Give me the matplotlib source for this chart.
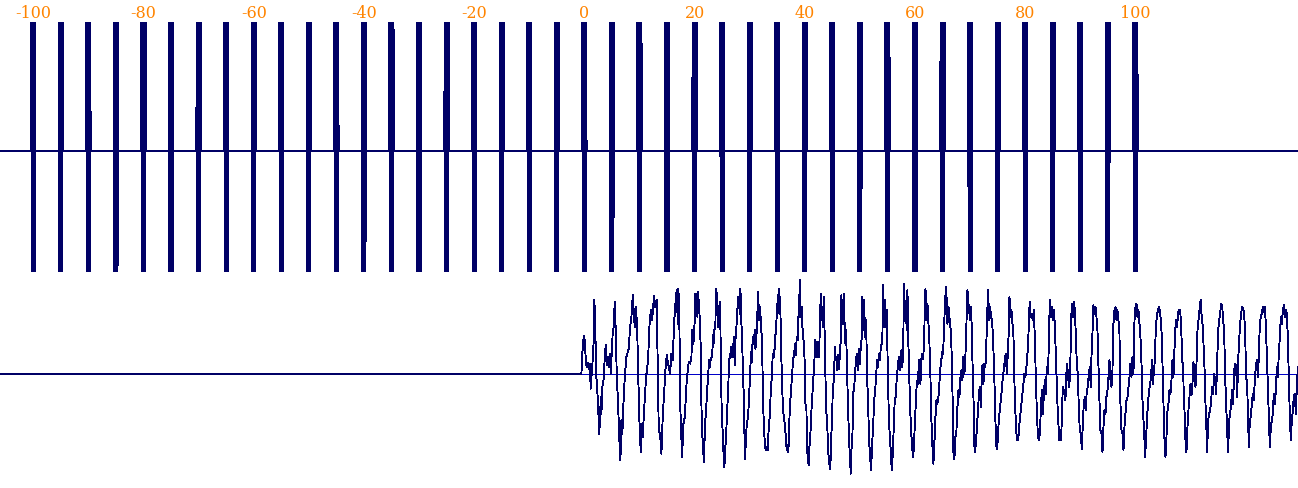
import numpy as np
import matplotlib
matplotlib.use("Agg")
import matplotlib.pyplot as plt

# ---------------- data ----------------
x_limits = (-106.04, 129.5)
tick_values = [-100, -80, -60, -40, -20, 0, 20, 40, 60, 80, 100]
tick_labels = ["-100", "-80", "-60", "-40", "-20", "0", "20", "40", "60", "80", "100"]

# top panel: impulse-like bursts every 5 units
bar_centers = [-100, -95, -90, -85, -80, -75, -70, -65, -60, -55, -50, -45, -40, -35,
               -30, -25, -20, -15, -10, -5, 0, 5, 10, 15, 20, 25, 30, 35, 40, 45,
               50, 55, 60, 65, 70, 75, 80, 85, 90, 95, 100]
burst_offsets = [-0.40, -0.34, -0.27, -0.20, -0.13, -0.07, 0.0, 0.07, 0.13, 0.20, 0.27, 0.34, 0.40]
burst_values = [0, 3, -3, 3, -3, 3, -3, 3, -3, 3, -3, 3, 0]

# bottom panel: response waveform (amplitude in arbitrary units)
wave_t = [
    -106.1,
    -0.54, -0.42, -0.24, -0.05, 0.13, 0.25, 0.43, 0.61, 0.79, 0.97,
    1.16, 1.34, 1.58, 1.70, 1.82, 2.00, 2.18, 2.49, 2.67, 2.85,
    2.97, 3.09, 3.27, 3.52, 3.70, 3.88, 4.06, 4.30, 4.48, 4.60,
    4.79, 4.97, 5.15, 5.33, 5.51, 5.69, 5.88, 6.12, 6.30, 6.54,
    6.72, 6.90, 7.09, 7.33, 7.63, 8.05, 8.30, 8.54, 8.78, 8.96,
    9.14, 9.32, 9.57, 9.75, 9.99, 10.23, 10.41, 10.59, 10.84, 11.20,
    11.56, 11.80, 12.05, 12.29, 12.65, 12.89, 13.14, 13.26, 13.50, 13.74,
    13.98, 14.22, 14.47, 14.71, 14.95, 15.19, 15.56, 15.80, 16.04, 16.28,
    16.52, 16.77, 16.95, 17.07, 17.25, 17.43, 17.73, 17.98, 18.22, 18.58,
    18.94, 19.19, 19.43, 19.55, 19.79, 20.03, 20.15, 20.40, 20.52, 20.64,
    20.94, 21.12, 21.24, 21.36, 21.54, 21.66, 21.78, 21.91, 22.09, 22.27,
    22.45, 22.63, 22.81, 22.93, 23.18, 23.36, 23.48, 23.60, 23.78, 23.90,
    24.08, 24.20, 24.39, 24.57, 24.69, 24.81, 24.93, 25.11, 25.29, 25.41,
    25.54, 25.72, 25.90, 26.08, 26.26, 26.44, 26.62, 26.81, 26.93, 27.05,
    27.17, 27.29, 27.41, 27.59, 27.77, 27.90, 28.08, 28.20, 28.32, 28.50,
    28.62, 28.80, 28.98, 29.11, 29.23, 29.47, 29.71, 29.89, 30.07, 30.25,
    30.38, 30.56, 30.74, 30.92, 31.04, 31.22, 31.34, 31.53, 31.71, 31.89,
    32.07, 32.25, 32.43, 32.61, 32.80, 32.92, 33.10, 33.28, 33.46, 33.64,
    33.82, 34.01, 34.19, 34.37, 34.55, 34.67, 34.79, 34.97, 35.16, 35.28,
    35.40, 35.52, 35.64, 35.76, 36.00, 36.18, 36.37, 36.55, 36.73, 36.85,
    37.03, 37.15, 37.33, 37.51, 37.70, 37.88, 38.06, 38.24, 38.36, 38.54,
    38.72, 38.85, 38.97, 39.09, 39.21, 39.33, 39.45, 39.57, 39.69, 39.87,
    40.00, 40.12, 40.30, 40.42, 40.54, 40.72, 40.84, 41.02, 41.21, 41.39,
    41.57, 41.75, 41.87, 42.05, 42.17, 42.35, 42.54,
    42.60, 42.72, 42.90, 43.08, 43.20, 43.32, 43.44, 43.56, 43.68, 43.87,
    44.05, 44.23, 44.41, 44.59, 44.71, 44.83, 44.96, 45.08, 45.20, 45.32,
    45.44, 45.62, 45.80, 45.92, 46.04, 46.23, 46.41, 46.53, 46.65, 46.77,
    46.89, 47.01, 47.13, 47.25, 47.38, 47.50, 47.62, 47.86, 48.04, 48.22,
    48.34, 48.46, 48.65, 48.83, 48.95, 49.07, 49.25, 49.43, 49.61, 49.80,
    49.98, 50.16, 50.34, 50.46, 50.64, 50.76, 50.94, 51.13, 51.31, 51.49,
    51.67, 51.85, 52.03, 52.22, 52.40, 52.58, 52.76, 52.94, 53.12, 53.30,
    53.49, 53.67, 53.79, 53.97, 54.09, 54.21, 54.39, 54.51, 54.70, 54.88,
    55.06, 55.24, 55.42, 55.60, 55.78, 55.97, 56.15, 56.33, 56.51, 56.69,
    56.87, 57.06, 57.24, 57.42, 57.54, 57.72, 57.90, 58.02, 58.20, 58.33,
    58.51, 58.63, 58.75, 58.93, 59.11, 59.29, 59.48, 59.66, 59.84, 59.96,
    60.14, 60.32, 60.44, 60.56, 60.69, 60.87, 60.99, 61.11, 61.29, 61.47,
    61.65, 61.77, 61.90, 62.02, 62.14, 62.26, 62.44, 62.62, 62.80, 62.98,
    63.17, 63.35, 63.47, 63.59, 63.71, 63.89, 64.07, 64.25,
    64.37, 64.49, 64.68, 64.86, 64.98, 65.10, 65.28, 65.46, 65.64, 65.77,
    65.89, 66.07, 66.19, 66.37, 66.55, 66.73, 66.85, 66.98, 67.10, 67.22,
    67.34, 67.52, 67.70, 67.88, 68.06, 68.25, 68.43, 68.61, 68.79, 68.97,
    69.09, 69.27, 69.40, 69.52, 69.64, 69.82, 70.00, 70.18, 70.30, 70.48,
    70.67, 70.79, 70.91, 71.03, 71.21, 71.39, 71.57, 71.75, 71.94, 72.12,
    72.24, 72.42, 72.60, 72.78, 72.96, 73.15, 73.27, 73.45, 73.63, 73.81,
    73.99, 74.17, 74.36, 74.54, 74.72, 74.84, 75.02, 75.20, 75.38, 75.57,
    75.75, 75.93, 76.11, 76.29, 76.47, 76.66, 76.84, 77.02, 77.14, 77.32,
    77.50, 77.68, 77.87, 78.05, 78.23, 78.41, 78.59, 78.77, 78.95, 79.14,
    79.32, 79.50, 79.68, 79.86, 80.04, 80.22, 80.41, 80.53, 80.71, 80.83,
    81.01, 81.19, 81.37, 81.56, 81.74, 81.92, 82.10, 82.28, 82.46, 82.64,
    82.83, 83.01, 83.19, 83.37, 83.55, 83.73, 83.92, 84.10, 84.22, 84.46,
    84.64, 84.82, 85.00, 85.19, 85.37, 85.55, 85.73, 85.91, 86.09,
    86.15, 86.33, 86.52, 86.64, 86.82, 87.00, 87.18, 87.30, 87.42, 87.60,
    87.79, 87.97, 88.15, 88.27, 88.39, 88.51, 88.69, 88.88, 89.06, 89.18,
    89.36, 89.54, 89.72, 89.90, 90.09, 90.27, 90.45, 90.63, 90.81, 90.99,
    91.17, 91.36, 91.54, 91.72, 91.90, 92.02, 92.20, 92.38, 92.57, 92.75,
    92.93, 93.11, 93.29, 93.47, 93.65, 93.84, 94.02, 94.20, 94.38, 94.56,
    94.74, 94.93, 95.11, 95.29, 95.47, 95.65, 95.83, 96.01, 96.20, 96.38,
    96.56, 96.74, 96.92, 97.10, 97.28, 97.47, 97.65, 97.83, 98.01, 98.19,
    98.37, 98.56, 98.74, 98.92, 99.10, 99.28, 99.46, 99.64, 99.83, 100.01,
    100.19, 100.37, 100.55, 100.73, 100.91, 101.10, 101.28, 101.46, 101.64, 101.76,
    101.94, 102.12, 102.31, 102.49, 102.67, 102.85, 102.97, 103.15, 103.33, 103.52,
    103.70, 103.88, 104.06, 104.24, 104.42, 104.61, 104.79, 104.97, 105.15, 105.33,
    105.45, 105.63, 105.82, 106.00, 106.18, 106.36, 106.54, 106.72, 106.90, 107.03,
    107.21, 107.39, 107.57, 107.75, 107.93,
    108.11, 108.29, 108.48, 108.66, 108.78, 108.90, 109.02, 109.14, 109.26, 109.44,
    109.62, 109.81, 109.99, 110.17, 110.35, 110.53, 110.71, 110.90, 111.08, 111.26,
    111.44, 111.62, 111.74, 111.86, 111.98, 112.17, 112.35, 112.53, 112.71, 112.89,
    113.01, 113.19, 113.38, 113.56, 113.74, 113.92, 114.10, 114.28, 114.46, 114.65,
    114.83, 115.01, 115.19, 115.37, 115.55, 115.74, 115.92, 116.10, 116.28, 116.46,
    116.64, 116.82, 117.01, 117.19, 117.37, 117.55, 117.73, 117.91, 118.09, 118.28,
    118.46, 118.64, 118.82, 119.00, 119.18, 119.37, 119.55, 119.73, 119.91, 120.09,
    120.27, 120.45, 120.58, 120.76, 120.94, 121.12, 121.30, 121.48, 121.66, 121.85,
    122.03, 122.21, 122.39, 122.57, 122.75, 122.93, 123.12, 123.30, 123.48, 123.66,
    123.84, 124.02, 124.21, 124.39, 124.57, 124.75, 124.93, 125.11, 125.29, 125.48,
    125.66, 125.84, 126.02, 126.20, 126.38, 126.56, 126.75, 126.93, 127.11, 127.29,
    127.47, 127.65, 127.84, 128.02, 128.20, 128.38, 128.56, 128.74, 128.92, 129.11,
    129.29, 129.41, 129.53,
]
wave_y = [
    0,
    0, 47, 97, 114, 92, 42, 22, 34, 17, 32,
    -43, 7, 57, 107, 224, 122, -8, -88, -178, -138,
    -68, -118, -38, -13, 52, 87, 27, 52, 22, 62,
    2, 62, 127, 142, 217, 132, -3, -88, -178, -258,
    -138, -178, -88, -8, 52, 77, 142, 172, 237, 192,
    142, 202, 152, 12, -138, -233, -148, -188, -108, -8,
    42, 142, 192, 162, 234, 202, 222, 82, -168, -178,
    -238, -128, -58, 12, 57, 32, 2, 62, 42, 152,
    212, 254, 152, 257, 142, -108, -248, -148, -128, -18,
    37, 32, 52, 132, 92, 162, 242, 232, 172, 247,
    167, 77, -88, -178, -208, -263, -213, -148, -108, -48,
    -8, 42, 22, 47, 52, 117, 92, 132, 152, 257,
    232, 142, 182, 217, 142, -8, -118, -178, -253, -278,
    -228, -188, -108, -58, 42, 52, 82, 52, 92, 52,
    112, 27, 102, 142, 192, 232, 212, 182, 257, 152,
    112, -8, -88, -253, -228, -148, -128, -68, 2, 67,
    37, 112, 92, 132, 77, 112, 152, 247, 162, 202,
    142, 97, -88, -168, -218, -228, -218, -228, -158, -128,
    -53, -8, 62, 52, 82, 117, 132, 207, 222, 257,
    182, 232, 132, 42, -88, -128, -148, -188, -228, -213,
    -233, -158, -88, -48, 2, 42, 62, 92, 57, 112,
    102, 172, 192, 282, 172, 192, 202, 142, 112, 92,
    22, -88, -108, -213, -258, -273, -218, -178, -108, -58,
    -8, 42, 102, 52, 97, 52, 92,
    52, 142, 242, 162, 202, 142, 232, 152, 52, -108,
    -138, -228, -263, -283, -248, -178, -138, -38, -28, -8,
    82, 42, 52, 12, 57, 17, 77, 102, 237, 152,
    222, 152, 242, 122, 92, 132, 42, -108, -198, -258,
    -298, -228, -178, -53, -48, -8, 32, 62, 12, 77,
    32, 82, 112, 232, 132, 222, 112, 162, -8, -88,
    -198, -248, -288, -208, -158, -78, -53, -8, 42, 22,
    62, 42, 87, 92, 122, 267, 142, 222, 142, 192,
    12, -118, -188, -228, -288, -238, -158, -73, -68, -8,
    22, 52, 12, 52, 72, 22, 132, 272, 162, 192,
    132, 252, 122, 12, -98, -168, -218, -248, -208, -148,
    -88, -28, -18, -28, 42, 2, -28, 42, 62, 47,
    92, 192, 257, 202, 162, 212, 152, 92, -8, -138,
    -218, -268, -208, -188, -128, -78, -88, -68,
    -48, -8, 32, 52, 67, 62, 142, 222, 262, 212,
    152, 202, 182, 152, 122, 2, -98, -238, -253, -238,
    -188, -168, -98, -48, -68, -8, 12, -18, 52, 2,
    32, 112, 192, 252, 222, 192, 162, 202, 132, 2,
    -108, -218, -233, -208, -168, -118, -68, -38, -98, -8,
    27, -28, 32, 22, 102, 202, 252, 162, 202, 172,
    162, 102, 12, -108, -208, -223, -198, -138, -108, -78,
    -48, -8, 12, 42, 62, 2, 62, 132, 232, 172,
    192, 152, 112, -28, -118, -178, -198, -188, -148, -118,
    -88, -58, -28, 2, -8, 22, 62, 92, 182, 217,
    172, 182, 162, 192, 112, -8, -108, -178, -198, -178,
    -108, -48, -118, -68, -18, -58, 22, 2, 52, 222,
    172, 202, 162, 192, 152, 62, -38, -118, -168,
    -198, -168, -198, -128, -38, -58, -48, -78, -8, 32,
    -8, -38, 2, 102, 182, 212, 172, 217, 172, 112,
    32, 2, -98, -168, -178, -223, -148, -88, -68, -108,
    -48, -38, 2, 22, -38, 52, 122, 207, 182, 202,
    172, 132, 22, -78, -168, -178, -233, -158, -108, -118,
    -68, -48, -8, 42, -18, -38, 12, 152, 192, 202,
    162, 192, 162, 122, -88, -168, -178, -228, -158, -118,
    -78, -68, -38, -8, 32, -8, 52, 2, 162, 202,
    212, 172, 192, 152, 112, 32, -78, -138, -198, -248,
    -188, -128, -78, -48, -28, -8, 42, -28, 2, 42,
    142, 172, 192, 202, 192, 162, 112, -8, -128, -228,
    -248, -188, -108, -88, -48, -58, -18, 42, -8, 52,
    132, 162, 142, 187, 192,
    192, 152, 42, 22, -78, -108, -168, -228, -233, -158,
    -108, -68, -28, -63, -28, 37, -8, -38, 32, 132,
    162, 192, 217, 222, 182, 152, 92, 22, -88, -168,
    -233, -138, -118, -108, -78, -38, -58, 2, -18, -58,
    42, 132, 162, 182, 212, 207, 162, 132, -8, -88,
    -168, -233, -138, -118, -88, -48, -88, 12, 32, 22,
    -68, 42, 102, 152, 182, 202, 197, 182, 122, -8,
    -28, -138, -218, -138, -128, -88, -58, -78, -18, 22,
    42, -8, 52, 152, 172, 182, 202, 187, 202, 152,
    62, -18, -128, -218, -158, -138, -118, -58, -88, -48,
    22, -8, 62, 112, 172, 152, 192, 207, 172, 192,
    182, 112, -8, -128, -198, -138, -108, -68, -58, -118,
    -38, 2, 22,
]

# ---------------- styling ----------------
NAVY = "#000066"
AXIS_BLUE = "#0000c8"
ORANGE = "#ff8400"
LW = 0.65

W, H = 1298, 489
fig = plt.figure(figsize=(W / 100, H / 100), dpi=100)
fig.patch.set_facecolor("white")

# top panel (pixel rows 22.7 .. 272.7)
ax_top = fig.add_axes([0, (H - 272.7) / H, 1, 250 / H])
# bottom panel (pixel rows 278 .. 489)
ax_bot = fig.add_axes([0, 0, 1, (H - 278) / H])

# build top signal: zero baseline with bursts at each centre
top_x = [x_limits[0]]
top_y = [0.0]
for c in bar_centers:
    top_x.append(c + burst_offsets[0] - 0.01)
    top_y.append(0.0)
    top_x.extend([c + o for o in burst_offsets])
    top_y.extend(burst_values)
top_x.append(x_limits[1])
top_y.append(0.0)

ax_top.plot(top_x, top_y, color=NAVY, lw=LW, antialiased=False)
ax_top.set_xlim(*x_limits)
ax_top.set_ylim(-1.204, 1.296)

ax_bot.axhline(0, color=AXIS_BLUE, lw=LW, zorder=1, antialiased=False)
ax_bot.plot(wave_t, wave_y, color=NAVY, lw=LW, zorder=2, antialiased=False)
ax_bot.set_xlim(*x_limits)
ax_bot.set_ylim(-341.1, 291.9)

for ax in (ax_top, ax_bot):
    for s in ax.spines.values():
        s.set_visible(False)
    ax.set_yticks([])
    ax.set_facecolor("none")

ax_bot.set_xticks([])

ax_top.xaxis.tick_top()
ax_top.set_xticks(tick_values)
ax_top.set_xticklabels(tick_labels, fontfamily="DejaVu Serif", fontsize=11.5, color=ORANGE)
ax_top.tick_params(axis="x", length=0, pad=0.8, top=True, bottom=False,
                   labeltop=True, labelbottom=False)

fig.savefig("out.png", dpi=100, facecolor="white")
